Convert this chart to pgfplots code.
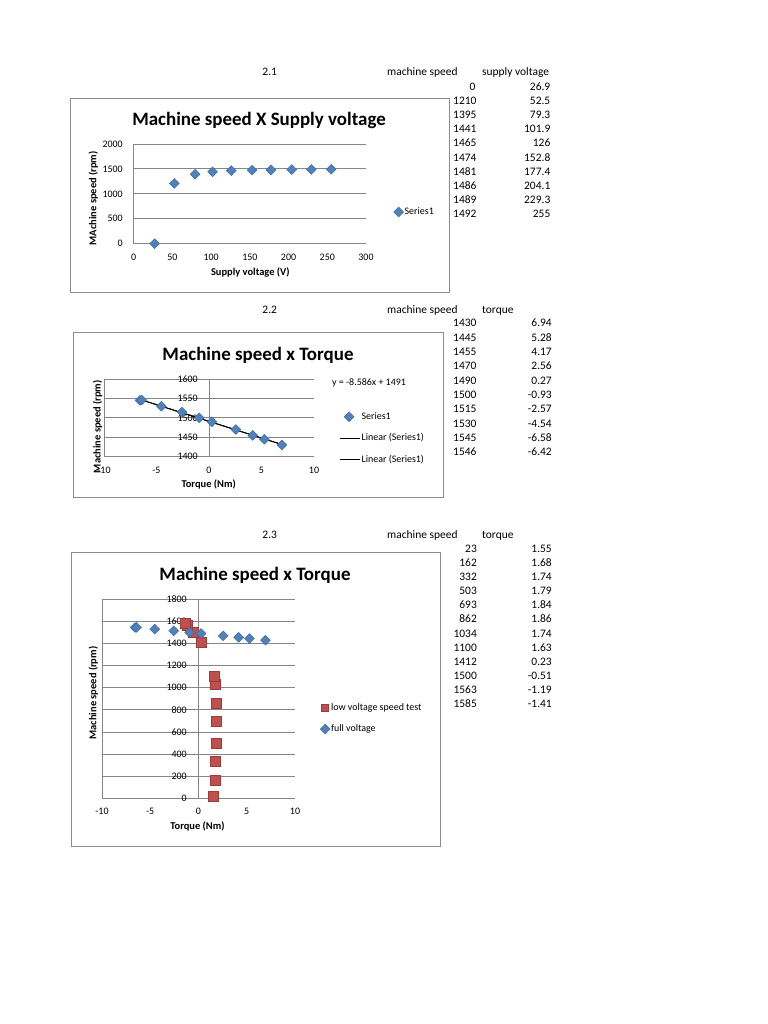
\documentclass[border=0pt]{standalone}
\usepackage{fontspec}
\setmainfont{Carlito}
\usepackage{pgfplots}
\pgfplotsset{compat=1.18}
\definecolor{xlblue}{HTML}{4F81BD}
\definecolor{xlbluedk}{HTML}{3A679E}
\definecolor{xlred}{HTML}{C0504D}
\definecolor{xlreddk}{HTML}{9E3A37}
\definecolor{gridgray}{HTML}{868686}
\definecolor{boxgray}{HTML}{8C8C8C}

\pgfplotsset{
  xlbase/.style={
    scale only axis,
    anchor=south west,
    axis x line*=bottom, axis y line*=left,
    axis line style={gridgray, line width=0.9bp},
    ymajorgrids, major grid style={gridgray, line width=0.9bp},
    major tick length=0pt,
    tick style={draw=none},
    ticklabel style={font=\fontsize{10}{12}\selectfont},
    /pgf/number format/assume math mode=true,
    /pgf/number format/1000 sep={},
    scaled ticks=false,
    clip=false,
    legend cell align=left,
    legend style={draw=none, fill=none, inner sep=0pt, column sep=0pt,
      font=\fontsize{10}{12}\selectfont,
      nodes={inner sep=1bp, text height=7bp, text depth=2bp}},
  },
  bluemark/.style={only marks, mark=square*, mark size=3.5bp,
    mark options={rotate=45, fill=xlblue, draw=xlbluedk, line width=0.4bp}},
  redmark/.style={only marks, mark=square*, mark size=5bp,
    mark options={fill=xlred, draw=xlreddk, line width=0.4bp}},
  mkleg/.style 2 args={legend image code/.code={\path (0bp,0bp) (#1,0bp); \draw[##1] plot coordinates {(#2,0bp)};}},
  smleg/.style 2 args={legend image code/.code={\path (0bp,0bp) (#1,0bp); \draw[##1, mark size=3.5bp] plot coordinates {(#2,0bp)};}},
  lnleg/.style={legend image code/.code={\draw[##1] (0bp,0bp) -- (20bp,0bp);}},
}
\tikzset{
  tbl/.style={inner sep=0pt, font=\fontsize{11.5}{13}\selectfont},
  ttl/.style={inner sep=0pt, anchor=base, font=\bfseries\fontsize{19}{22}\selectfont},
  albl/.style={inner sep=0pt, font=\bfseries\fontsize{10.5}{12}\selectfont},
}

\begin{document}
\begin{tikzpicture}
\fill[white] (0,0) rectangle (768bp,-1024bp);
\useasboundingbox (0,0) rectangle (768bp,-1024bp);

% ---------------- tables ----------------
\node[tbl, anchor=mid] at (269.7bp,-73.5bp) {2.1};
\node[tbl, anchor=mid west] at (387bp,-73.5bp) {machine speed};
\node[tbl, anchor=mid west] at (482bp,-73.5bp) {supply voltage};
\node[tbl, anchor=mid east] at (475.5bp,-87.7bp) {0};
\node[tbl, anchor=mid east] at (550.5bp,-87.7bp) {26.9};
\foreach \k/\s/\v in {2/1210/52.5,3/1395/79.3,4/1441/101.9,5/1465/126,6/1474/152.8,7/1481/177.4,8/1486/204.1,9/1489/229.3,10/1492/255}{
  \node[tbl, anchor=mid west] at (453bp,{-(73.5+14.2*\k)*1bp}) {\s};
  \node[tbl, anchor=mid east] at (550.5bp,{-(73.5+14.2*\k)*1bp}) {\v};
}

\node[tbl, anchor=mid] at (269.7bp,-311bp) {2.2};
\node[tbl, anchor=mid west] at (387bp,-311bp) {machine speed};
\node[tbl, anchor=mid west] at (482bp,-311bp) {torque};
\foreach \k/\s/\v in {1/1430/6.94,2/1445/5.28,3/1455/4.17,4/1470/2.56,5/1490/0.27,6/1500/-0.93,7/1515/-2.57,8/1530/-4.54,9/1545/-6.58,10/1546/-6.42}{
  \node[tbl, anchor=mid west] at (453bp,{-(310+14.33*\k)*1bp}) {\s};
  \node[tbl, anchor=mid east] at (552bp,{-(310+14.33*\k)*1bp}) {\v};
}

\node[tbl, anchor=mid] at (269.7bp,-536bp) {2.3};
\node[tbl, anchor=mid west] at (387bp,-536bp) {machine speed};
\node[tbl, anchor=mid west] at (482bp,-536bp) {torque};
\foreach \k/\s/\v in {1/23/1.55,2/162/1.68,3/332/1.74,4/503/1.79,5/693/1.84,6/862/1.86,7/1034/1.74,8/1100/1.63,9/1412/0.23,10/1500/-0.51,11/1563/-1.19,12/1585/-1.41}{
  \node[tbl, anchor=mid east] at (477bp,{-(536+14.1*\k)*1bp}) {\s};
  \node[tbl, anchor=mid east] at (552bp,{-(536+14.1*\k)*1bp}) {\v};
}

% ---------------- chart 1 ----------------
\fill[white] (70bp,-98bp) rectangle (449bp,-292bp);
\draw[boxgray, line width=0.9bp] (70bp,-98bp) rectangle (449bp,-292bp);
\node[ttl] at (259bp,-125bp) {Machine speed X Supply voltage};
\node[albl, anchor=base] at (250.3bp,-275bp) {Supply voltage (V)};
\node[albl, rotate=90] at (93.3bp,-198.3bp) {MAchine speed (rpm)};
\begin{axis}[xlbase, at={(133.7bp,-243.7bp)}, width=232.3bp, height=99.7bp,
  xmin=0, xmax=300, ymin=0, ymax=2000,
  xtick={0,50,...,300}, ytick={0,500,...,2000},
  yticklabel style={xshift=-7.4bp}, xticklabel style={yshift=-6.5bp},
  legend style={at={(1.1184,0.318)}, anchor=west}]
\addplot[bluemark, mkleg={7bp}{3.5bp}]
  coordinates {(26.9,0) (52.5,1210) (79.3,1395) (101.9,1441) (126,1465) (152.8,1474) (177.4,1481) (204.1,1486) (229.3,1489) (255,1492)};
\addlegendentry{Series1}
\end{axis}

% ---------------- chart 2 ----------------
\fill[white] (73.3bp,-332.3bp) rectangle (443.3bp,-497bp);
\draw[boxgray, line width=0.9bp] (73.3bp,-332.3bp) rectangle (443.3bp,-497bp);
\node[ttl] at (258bp,-360bp) {Machine speed x Torque};
\node[albl, anchor=base] at (208.7bp,-487.7bp) {Torque (Nm)};
\node[albl, rotate=90] at (97.5bp,-426.7bp) {Machine speed (rpm)};
\node[inner sep=0pt, anchor=mid west, font=\fontsize{10}{12}\selectfont] at (332bp,-383bp) {y = -8.586x + 1491};
\begin{axis}[xlbase, at={(104bp,-456.7bp)}, width=210bp, height=77.7bp,
  xmin=-10, xmax=10, ymin=1400, ymax=1600,
  xtick={-10,-5,...,10}, ytick={1400,1450,...,1600},
  yticklabel style={xshift=97.3bp}, xticklabel style={yshift=-6.5bp},
  legend style={at={(1.1214,0.588)}, anchor=north west, row sep=10.5bp}]
\draw[gridgray, line width=0.9bp] (axis cs:0,1400) -- (axis cs:0,1600);
\addplot[bluemark, mkleg={20bp}{9bp}]
  coordinates {(6.94,1430) (5.28,1445) (4.17,1455) (2.56,1470) (0.27,1490) (-0.93,1500) (-2.57,1515) (-4.54,1530) (-6.58,1545) (-6.42,1546)};
\addlegendentry{Series1}
\addplot[black, line width=0.9bp, lnleg]
  coordinates {(-6.58,1547.5) (6.94,1431.4)};
\addlegendentry{Linear (Series1)}
\addplot[black, line width=0.9bp, lnleg]
  coordinates {(-6.58,1547.5) (6.94,1431.4)};
\addlegendentry{Linear (Series1)}
\end{axis}

% ---------------- chart 3 ----------------
\fill[white] (71bp,-552.3bp) rectangle (440bp,-846.7bp);
\draw[boxgray, line width=0.9bp] (71bp,-552.3bp) rectangle (440bp,-846.7bp);
\node[ttl] at (255bp,-580bp) {Machine speed x Torque};
\node[albl, anchor=base] at (197.5bp,-829.3bp) {Torque (Nm)};
\node[albl, rotate=90] at (93.3bp,-693bp) {Machine speed (rpm)};
\begin{axis}[xlbase, at={(102bp,-798.3bp)}, width=193bp, height=199bp,
  xmin=-10, xmax=10, ymin=0, ymax=1800,
  xtick={-10,-5,...,10}, ytick={0,200,...,1800},
  yticklabel style={xshift=88.3bp}, xticklabel style={yshift=-6.5bp},
  legend style={at={(1.1295,0.482)}, anchor=north west, row sep=10bp}]
\draw[gridgray, line width=0.9bp] (axis cs:0,0) -- (axis cs:0,1800);
\addplot[redmark, smleg={8bp}{4bp}]
  coordinates {(1.55,23) (1.68,162) (1.74,332) (1.79,503) (1.84,693) (1.86,862) (1.74,1034) (1.63,1100) (0.23,1412) (-0.51,1500) (-1.19,1563) (-1.41,1585)};
\addlegendentry{low voltage speed test}
\addplot[bluemark, mkleg={8bp}{4bp}]
  coordinates {(6.94,1430) (5.28,1445) (4.17,1455) (2.56,1470) (0.27,1490) (-0.93,1500) (-2.57,1515) (-4.54,1530) (-6.58,1545) (-6.42,1546)};
\addlegendentry{full voltage}
\end{axis}
\end{tikzpicture}
\end{document}
